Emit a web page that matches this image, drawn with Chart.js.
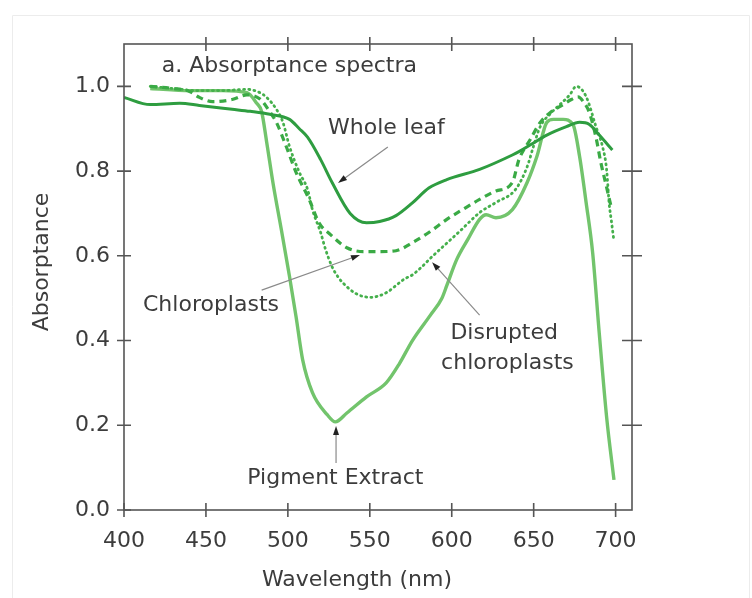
<!DOCTYPE html>
<html>
<head>
<meta charset="utf-8">
<script src="https://cdn.jsdelivr.net/npm/chart.js@4.4.1/dist/chart.umd.min.js"></script>
<style>
  html, body { margin: 0; padding: 0; background: #fff; }
  #wrap { width: 752px; height: 598px; }
</style>
</head>
<body>
<div id="wrap"><canvas id="chart" width="752" height="598"></canvas></div>
<script>
// ─── DATA ─────────────────────────────────────────────────────────────────
const xTicks = [400, 450, 500, 550, 600, 650, 700];
const yTicks = [0, 0.2, 0.4, 0.6, 0.8, 1.0];

const leafWl  = [400, 416, 434, 446, 466, 477, 489, 501, 507, 512, 520, 527, 538, 548, 556, 566, 576, 586, 597, 617, 637, 641, 648, 658, 670, 678, 684, 690, 698];
const leafAbs = [0.974, 0.957, 0.96, 0.955, 0.946, 0.941, 0.934, 0.922, 0.9, 0.88, 0.827, 0.773, 0.7, 0.678, 0.681, 0.695, 0.725, 0.76, 0.78, 0.804, 0.838, 0.846, 0.862, 0.885, 0.905, 0.915, 0.91, 0.885, 0.85];

const chlWl  = [416, 430, 440, 446, 454, 466, 475, 483, 489, 493, 499, 505, 513, 519, 526, 536, 546, 556, 566, 576, 586, 597, 607, 617, 627, 637, 641, 648, 654, 660, 668, 673, 677, 681, 684, 688, 691, 694, 697];
const chlAbs = [1.0, 0.995, 0.988, 0.974, 0.964, 0.969, 0.98, 0.97, 0.94, 0.915, 0.858, 0.797, 0.733, 0.678, 0.65, 0.619, 0.61, 0.61, 0.612, 0.631, 0.655, 0.686, 0.71, 0.733, 0.753, 0.773, 0.827, 0.875, 0.915, 0.938, 0.957, 0.969, 0.975, 0.96, 0.938, 0.88, 0.82, 0.77, 0.72];

const disWl  = [416, 430, 445, 460, 475, 483, 487, 493, 497, 501, 507, 512, 515, 520, 523, 527, 531, 536, 541, 546, 551, 556, 561, 566, 571, 576, 582, 588, 597, 606, 617, 627, 639, 646, 650, 654, 660, 666, 672, 676, 682, 688, 692, 694.5, 696, 697.5, 699];
const disAbs = [1.0, 0.995, 0.99, 0.99, 0.993, 0.985, 0.974, 0.946, 0.915, 0.858, 0.797, 0.757, 0.709, 0.655, 0.615, 0.574, 0.548, 0.527, 0.512, 0.504, 0.502, 0.506, 0.515, 0.53, 0.545, 0.555, 0.575, 0.598, 0.63, 0.662, 0.702, 0.726, 0.757, 0.81, 0.86, 0.905, 0.935, 0.957, 0.98, 1.0, 0.976, 0.905, 0.858, 0.804, 0.726, 0.68, 0.634];

const pigWl  = [416, 440, 460, 475, 481, 484, 487, 491, 496, 501, 505, 509, 515, 524, 529, 536, 548, 560, 568, 576, 587, 594, 597, 603, 610, 617, 621, 627, 637, 646, 652, 658, 662, 668, 674, 678, 682, 686, 690, 694.5, 699];
const pigAbs = [0.995, 0.99, 0.99, 0.985, 0.96, 0.94, 0.87, 0.77, 0.662, 0.551, 0.456, 0.355, 0.277, 0.225, 0.208, 0.229, 0.267, 0.30, 0.345, 0.40, 0.46, 0.50, 0.53, 0.591, 0.64, 0.686, 0.697, 0.69, 0.709, 0.773, 0.835, 0.915, 0.922, 0.922, 0.91, 0.835, 0.726, 0.607, 0.418, 0.22, 0.071];

// ─── STYLE ────────────────────────────────────────────────────────────────
const FONT = '"DejaVu Sans", sans-serif';
const TEXT = '#3c3c3c';
const AXIS = '#555';

function pts(xs, ys) { return xs.map((x, i) => ({ x, y: ys[i] })); }

// annotations in data units: text, [wl, abs], align
const labels = [
  { text: 'a. Absorptance spectra', at: [423, 1.048], align: 'left' },
  { text: 'Whole leaf', at: [524.5, 0.902], align: 'left' },
  { text: 'Chloroplasts', at: [411.6, 0.484], align: 'left' },
  { text: 'Disrupted', at: [632, 0.418], align: 'center' },
  { text: 'chloroplasts', at: [634, 0.347], align: 'center' },
  { text: 'Pigment Extract', at: [529, 0.0755], align: 'center' }
];
const arrows = [
  { from: [561, 0.857], to: [530.6, 0.772] },
  { from: [484, 0.519], to: [544, 0.602] },
  { from: [617, 0.46], to: [588, 0.585] },
  { from: [529.4, 0.111], to: [529.4, 0.198] }
];

const decor = {
  id: 'decor',
  afterDraw(chart) {
    const { ctx, chartArea: a, scales: { x, y } } = chart;
    ctx.save();
    // faint page frame
    ctx.strokeStyle = '#ececec';
    ctx.lineWidth = 1;
    ctx.beginPath();
    ctx.moveTo(12.5, 598); ctx.lineTo(12.5, 15.5); ctx.lineTo(749.5, 15.5); ctx.lineTo(749.5, 598);
    ctx.stroke();

    // plot box + crossing ticks
    ctx.strokeStyle = AXIS;
    ctx.lineWidth = 1.6;
    ctx.strokeRect(a.left, a.top, a.right - a.left, a.bottom - a.top);
    ctx.beginPath();
    xTicks.forEach(v => {
      const px = x.getPixelForValue(v);
      ctx.moveTo(px, a.bottom - 7); ctx.lineTo(px, a.bottom + 7);
      if (v > 400) { ctx.moveTo(px, a.top - 7); ctx.lineTo(px, a.top + 7); }
    });
    yTicks.forEach(v => {
      const py = y.getPixelForValue(v);
      ctx.moveTo(a.left - 7, py); ctx.lineTo(a.left + 7, py);
      if (v > 0) { ctx.moveTo(a.right - 10, py); ctx.lineTo(a.right + 10, py); }
    });
    ctx.stroke();

    // arrows
    arrows.forEach(ar => {
      const x0 = x.getPixelForValue(ar.from[0]), y0 = y.getPixelForValue(ar.from[1]);
      const x1 = x.getPixelForValue(ar.to[0]), y1 = y.getPixelForValue(ar.to[1]);
      const ang = Math.atan2(y1 - y0, x1 - x0);
      ctx.strokeStyle = '#8a8a8a';
      ctx.lineWidth = 1.2;
      ctx.beginPath(); ctx.moveTo(x0, y0); ctx.lineTo(x1 - 6 * Math.cos(ang), y1 - 6 * Math.sin(ang)); ctx.stroke();
      ctx.fillStyle = '#222';
      ctx.beginPath();
      ctx.moveTo(x1, y1);
      ctx.lineTo(x1 - 9 * Math.cos(ang) + 3 * Math.sin(ang), y1 - 9 * Math.sin(ang) - 3 * Math.cos(ang));
      ctx.lineTo(x1 - 9 * Math.cos(ang) - 3 * Math.sin(ang), y1 - 9 * Math.sin(ang) + 3 * Math.cos(ang));
      ctx.closePath(); ctx.fill();
    });

    // texts
    ctx.fillStyle = TEXT;
    ctx.font = '22px ' + FONT;
    ctx.textBaseline = 'middle';
    labels.forEach(l => {
      ctx.textAlign = l.align;
      ctx.fillText(l.text, x.getPixelForValue(l.at[0]), y.getPixelForValue(l.at[1]));
    });

    // axis titles
    ctx.textAlign = 'center';
    ctx.fillText('Wavelength (nm)', 357, 580);
    ctx.translate(42, 262);
    ctx.rotate(-Math.PI / 2);
    ctx.fillText('Absorptance', 0, 0);
    ctx.restore();
  }
};

new Chart(document.getElementById('chart'), {
  type: 'line',
  data: {
    datasets: [
      { label: 'Whole leaf', data: pts(leafWl, leafAbs), borderColor: '#2e9d40', borderWidth: 3 },
      { label: 'Chloroplasts', data: pts(chlWl, chlAbs), borderColor: '#3aaa45', borderWidth: 3.2, borderDash: [7, 5] },
      { label: 'Disrupted chloroplasts', data: pts(disWl, disAbs), borderColor: '#45b04c', borderWidth: 2.8, borderDash: [1, 4.2], borderCapStyle: 'round' },
      { label: 'Pigment Extract', data: pts(pigWl, pigAbs), borderColor: '#72c46c', borderWidth: 3.4 }
    ]
  },
  options: {
    responsive: false,
    animation: false,
    layout: { padding: { left: 0, right: 120, top: 44, bottom: 0 } },
    elements: { point: { radius: 0 }, line: { cubicInterpolationMode: 'monotone' } },
    plugins: { legend: { display: false }, tooltip: { enabled: false } },
    scales: {
      x: {
        type: 'linear', min: 400, max: 710,
        afterBuildTicks: s => { s.ticks = xTicks.map(v => ({ value: v })); },
        afterFit: s => { s.height = 88; },
        grid: { display: false, drawTicks: false },
        border: { display: false },
        ticks: { color: TEXT, font: { family: FONT, size: 22 }, padding: 18, maxRotation: 0 }
      },
      y: {
        min: 0, max: 1.1,
        afterBuildTicks: s => { s.ticks = yTicks.map(v => ({ value: v })); },
        afterFit: s => { s.width = 124; },
        grid: { display: false, drawTicks: false },
        border: { display: false },
        ticks: { color: TEXT, font: { family: FONT, size: 22 }, padding: 14, callback: v => v.toFixed(1) }
      }
    }
  },
  plugins: [decor]
});
</script>
</body>
</html>
